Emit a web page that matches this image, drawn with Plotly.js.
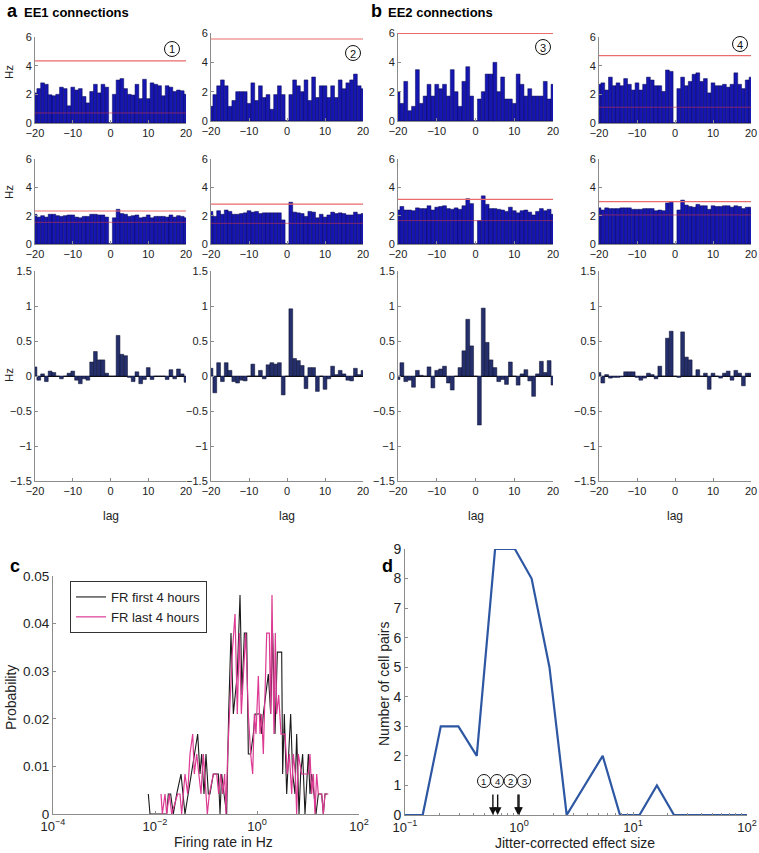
<!DOCTYPE html>
<html><head><meta charset="utf-8">
<script src="https://cdn.plot.ly/plotly-3.0.1.min.js"></script>
<style>html,body{margin:0;padding:0;background:#fff}#chart{width:759px;height:853px}</style>
</head><body><div id="chart"></div>
<script>
// ---------------- DATA ----------------
const lags = [-20,-19,-18,-17,-16,-15,-14,-13,-12,-11,-10,-9,-8,-7,-6,-5,-4,-3,-2,-1,0,1,2,3,4,5,6,7,8,9,10,11,12,13,14,15,16,17,18,19,20];
const xTickVals = [-20,-10,0,10,20];

// row 1: raw cross-correlograms (Hz)
const raw1 = [2.1,2.4,2.8,2.7,1.97,1.9,2.0,2.5,2.4,1.2,2.5,2.3,2.4,1.85,1.4,2.2,2.7,2.1,2.7,2.5,0.03,2.0,3.0,3.1,2.4,2.0,1.95,2.7,1.7,3.05,1.7,2.8,2.7,2.6,1.9,2.6,2.5,2.2,2.3,2.25,2.0];
const raw2 = [1.0,1.8,2.4,2.8,2.4,1.0,1.4,2.0,2.0,2.0,1.2,2.6,1.4,2.4,1.6,1.8,0.8,1.8,2.4,1.8,0.03,1.8,2.8,2.4,2.0,2.8,1.4,3.0,1.6,2.4,2.4,1.6,2.4,1.6,2.8,2.2,2.6,2.8,3.2,2.4,2.2];
const raw3 = [2.0,1.2,2.7,0.7,1.0,3.5,1.2,1.7,2.5,1.7,2.5,2.2,2.5,1.7,3.5,2.0,1.0,2.7,3.7,1.7,0.03,1.5,2.0,3.2,3.2,4.0,2.0,3.0,1.5,1.5,1.2,3.2,2.5,1.7,2.2,1.7,1.7,1.7,2.7,1.5,2.5];
const raw4 = [2.7,2.8,2.3,3.2,2.6,2.8,2.6,3.1,2.7,2.3,2.8,2.3,2.7,3.2,3.0,2.6,2.6,2.2,3.7,3.6,0.03,2.4,3.2,2.6,2.9,3.4,3.5,2.9,3.1,2.1,2.8,2.6,2.6,2.7,2.5,2.7,3.5,2.7,2.4,3.0,3.2];
// row 2: jittered cross-correlograms (Hz)
const jit1 = [2.1,1.9,2.0,1.9,2.1,2.1,2.0,1.95,2.0,2.05,2.05,1.9,1.85,1.95,1.95,2.1,2.1,2.05,2.05,1.9,0.03,1.85,2.45,2.15,2.1,1.95,2.0,2.05,1.85,1.9,2.05,1.85,1.95,1.95,1.95,1.9,2.05,1.9,2.0,1.95,1.85];
const jit2 = [2.3,1.95,2.35,2.1,2.4,2.3,2.1,2.1,2.15,2.2,2.35,2.25,2.3,2.15,2.2,2.2,2.2,2.2,2.2,1.7,0.03,2.95,2.25,2.2,2.15,1.95,2.3,2.25,1.85,2.1,1.9,2.05,2.25,2.15,2.2,2.15,2.05,2.05,2.25,2.1,2.15];
const jit3 = [2.4,2.65,2.4,2.4,2.35,2.55,2.5,2.5,2.7,2.4,2.6,2.65,2.7,2.5,2.45,2.55,2.45,2.7,3.2,2.85,0.03,1.65,3.4,2.8,2.5,2.5,2.45,2.4,2.3,2.6,2.35,2.2,2.35,2.4,2.25,2.05,2.3,2.5,2.35,2.45,2.1];
const jit4 = [2.55,2.4,2.55,2.5,2.5,2.5,2.55,2.55,2.55,2.45,2.45,2.45,2.5,2.5,2.5,2.35,2.4,2.35,2.9,3.0,0.03,2.4,3.1,2.75,2.65,2.6,2.8,2.7,2.7,2.45,2.7,2.65,2.65,2.7,2.7,2.6,2.7,2.65,2.5,2.6,2.6];
// row 3: jitter-corrected difference (Hz)
const dif1 = [0.13,-0.06,0.03,-0.08,0.07,0.05,0.0,-0.04,0.0,0.04,0.07,-0.06,-0.11,-0.04,-0.06,0.2,0.35,0.23,0.23,0.04,0.0,0.0,0.58,0.31,0.29,-0.02,-0.08,0.06,-0.11,-0.05,0.12,-0.05,0.0,0.0,0.0,-0.05,0.09,-0.04,0.1,0.03,-0.09];
const dif2 = [0.11,-0.24,0.19,-0.08,0.19,0.08,-0.08,-0.1,-0.06,-0.07,0.0,0.17,0.0,0.08,-0.04,0.16,0.19,0.17,0.19,-0.27,0.0,0.96,0.25,0.22,0.15,-0.18,0.12,0.12,-0.22,0.0,-0.19,-0.04,0.14,0.02,0.08,0.03,-0.06,-0.07,0.11,0.02,0.08];
const dif3 = [-0.05,0.19,-0.08,-0.06,-0.16,0.08,0.01,0.0,0.13,-0.17,0.08,0.1,0.14,-0.1,-0.2,0.0,0.12,0.36,0.81,0.43,0.0,-0.7,0.97,0.48,0.23,0.12,-0.08,-0.05,-0.12,0.2,0.0,-0.13,0.03,0.09,-0.07,-0.29,0.03,0.21,0.05,0.22,-0.13];
const dif4 = [0.05,-0.1,0.02,-0.03,-0.02,-0.02,-0.01,0.06,0.06,0.06,-0.02,-0.06,-0.03,0.04,0.02,-0.04,0.14,0.0,0.54,0.64,0.0,-0.02,0.63,0.27,0.23,0.0,0.09,0.0,0.04,-0.19,0.04,0.0,-0.03,0.04,0.07,-0.06,0.08,0.04,-0.14,0.04,0.04];

// significance bands (Hz)
const rawUpper = [4.33, 5.59, 5.97, 4.7];
const rawLower = [0.7, null, null, 1.1];
const jitUpper = [2.33, 2.82, 3.15, 2.99];
const jitLower = [1.53, 1.46, 1.65, 2.05];
const panelNums = ['1','2','3','4'];

// panel c: firing-rate distributions (log10 Hz, probability)
const firstLogHz = [-2.131,-2.098,-1.771,-1.739,-1.693,-1.641,-1.575,-1.490,-1.412,-1.346,-1.281,-1.216,-1.163,-1.118,-1.085,-1.039,-1.000,-0.954,-0.922,-0.856,-0.758,-0.725,-0.693,-0.647,-0.595,-0.556,-0.510,-0.464,-0.431,-0.386,-0.333,-0.294,-0.248,-0.203,-0.170,-0.124,-0.072,-0.039,0.059,0.092,0.124,0.170,0.222,0.268,0.307,0.353,0.399,0.484,0.503,0.536,0.582,0.621,0.660,0.699,0.745,0.778,0.824,0.856,0.895,0.941,1.007,1.039,1.072,1.118,1.157,1.203,1.268,1.301,1.333,1.379];
const firstProb  = [0.0042,0,0,0.0042,0.0042,0,0.0042,0.0084,0,0.0042,0.0084,0.0126,0.0168,0.0084,0.0126,0.0042,0.0126,0.0042,0.0042,0.0084,0.0084,0,0.0084,0.0042,0,0.021,0.038,0.021,0.025,0.0294,0.046,0.025,0.038,0.038,0.0126,0.0126,0.0168,0.021,0.021,0.0168,0.021,0.025,0.0294,0.021,0.038,0.0168,0.034,0.034,0.0084,0.021,0.0042,0.0126,0.021,0.0084,0.0042,0.0168,0,0.0084,0.0126,0,0.0126,0.0042,0.0084,0.0042,0,0.0042,0.0042,0,0.0042,0.0042];
const lastLogHz = [-1.882,-1.856,-1.804,-1.771,-1.719,-1.673,-1.556,-1.510,-1.477,-1.412,-1.359,-1.314,-1.261,-1.229,-1.183,-1.144,-1.098,-1.052,-1.007,-0.974,-0.935,-0.856,-0.791,-0.752,-0.712,-0.673,-0.634,-0.608,-0.575,-0.542,-0.484,-0.431,-0.386,-0.346,-0.307,-0.268,-0.222,-0.170,-0.124,-0.085,-0.052,-0.020,0.026,0.059,0.092,0.124,0.157,0.190,0.242,0.268,0.294,0.333,0.359,0.386,0.425,0.471,0.549,0.595,0.634,0.680,0.712,0.752,0.778,0.810,0.876,0.941,1.007,1.039,1.072,1.105,1.137,1.170,1.203,1.268,1.301,1.333,1.399];
const lastProb  = [0.0042,0,0.0042,0,0.0042,0,0.0042,0.0042,0,0.0084,0.0042,0.0126,0.0168,0.0084,0.0126,0.0084,0.0042,0.0126,0.0042,0,0.0042,0.0084,0.0084,0.0042,0.0084,0.0042,0.0084,0,0.0126,0.021,0.034,0.042,0.021,0.038,0.021,0.029,0.038,0.021,0.0126,0.0084,0.021,0.0168,0.029,0.0168,0.021,0.0126,0.025,0.038,0.038,0.021,0.046,0.0168,0.038,0.021,0.025,0.0168,0.0168,0.0084,0.0126,0.0042,0.0126,0.0084,0,0.0126,0.0084,0.0084,0.0084,0.0126,0.0042,0.0084,0,0.0084,0.0042,0.0042,0,0.0042,0.0042];
const cTickVals = [1e-4, 1e-2, 1, 100];
const cTickText = ['10<sup>\u22124</sup>','10<sup>\u22122</sup>','10<sup>0</sup>','10<sup>2</sup>'];

// panel d: effect-size distribution
const effX = [0.1,0.143,0.206,0.294,0.426,0.617,0.92,1.29,1.85,2.62,5.42,7.69,11.4,16.2,22.9,100];
const effN = [0,0,3,3,2,9,9,8,5,0,2,0,0,1,0,0];
const arrowEff = [0.59, 0.65, 0.98, 1.0];
const arrowLabels = ['1','4','2','3'];
const dTickVals = [0.1, 1, 10, 100];
const dTickText = ['10<sup>\u22121</sup>','10<sup>0</sup>','10<sup>1</sup>','10<sup>2</sup>'];

// ---------------- LAYOUT HELPERS ----------------
const W = 759, H = 853;
const FONT = 'Liberation Sans, Arial, Helvetica, sans-serif';
const xd = (a,b) => [a/W, b/W];
const yd = (t,b) => [1-b/H, 1-t/H];
const px = v => v/W, py = v => 1 - v/H;

const colX = [[35,186],[211,363],[398,553],[599,751]];
const row1Y = [[37,123],[33,121],[33,121],[37,123]];
const row2Y = [159,244];
const row3Y = [271,481];

const axisBase = () => ({showline:true, linecolor:'#8c8c8c', linewidth:1, ticks:'inside', ticklen:3, tickwidth:1,
  tickcolor:'#8c8c8c', showgrid:false, zeroline:false, fixedrange:true,
  tickfont:{family:FONT, size:11, color:'#222'}});

const layout = {width:W, height:H, margin:{l:0,r:0,t:0,b:0}, paper_bgcolor:'#fff', plot_bgcolor:'rgba(0,0,0,0)',
  bargap:0, showlegend:true, font:{family:FONT, color:'#111'}, annotations:[], shapes:[],
  legend:{x:px(70), y:py(581), xanchor:'left', yanchor:'top', bgcolor:'#fff', bordercolor:'#333', borderwidth:1,
    font:{family:FONT, size:13, color:'#222'}, itemwidth:30, tracegroupgap:0}};
const traces = [];

const rows = [
  {vals:[raw1,raw2,raw3,raw4], upper:rawUpper, lower:rawLower, color:'#1616b2', edge:'#08084e', yr:[0,6], dt:2},
  {vals:[jit1,jit2,jit3,jit4], upper:jitUpper, lower:jitLower, color:'#1616b2', edge:'#08084e', yr:[0,6], dt:2},
  {vals:[dif1,dif2,dif3,dif4], upper:null, lower:null, color:'#252f6c', edge:'#0b0f2a', yr:[-1.5,1.5], dt:0.5}
];

rows.forEach((row, r) => {
  for (let c = 0; c < 4; c++) {
    const n = r*4 + c + 1;
    const xk = 'xaxis' + n, yk = 'yaxis' + n;
    const yBox = r === 0 ? row1Y[c] : (r === 1 ? row2Y : row3Y);
    layout[xk] = Object.assign(axisBase(), {domain:xd(colX[c][0], colX[c][1]), anchor:'y'+n, range:[-20,20],
      tickmode:'array', tickvals:xTickVals});
    layout[yk] = Object.assign(axisBase(), {domain:yd(yBox[0], yBox[1]), anchor:'x'+n, range:row.yr,
      tickmode:'linear', tick0:row.yr[0], dtick:row.dt});
    if (r === 2) Object.assign(layout[yk], {zeroline:true, zerolinecolor:'#111', zerolinewidth:1});
    traces.push({type:'bar', x:lags, y:row.vals[c], xaxis:'x'+n, yaxis:'y'+n, showlegend:false, hoverinfo:'skip',
      marker:{color:row.color, line:{color:row.edge, width:0.5}}});
    if (row.upper && row.upper[c] != null)
      traces.push({type:'scatter', mode:'lines', x:[-20,20], y:[row.upper[c], row.upper[c]], xaxis:'x'+n, yaxis:'y'+n,
        showlegend:false, hoverinfo:'skip', line:{color:'#e96b6b', width:1.2}});
    if (row.lower && row.lower[c] != null)
      traces.push({type:'scatter', mode:'lines', x:[-20,20], y:[row.lower[c], row.lower[c]], xaxis:'x'+n, yaxis:'y'+n,
        showlegend:false, hoverinfo:'skip', line:{color:'rgba(200,50,80,0.6)', width:1}});
  }
});

// panel c
layout.xaxis13 = Object.assign(axisBase(), {domain:xd(53,359), anchor:'y13', type:'log', range:[-4,2],
  tickmode:'array', tickvals:cTickVals, ticktext:cTickText, tickfont:{family:FONT, size:13, color:'#222'}});
layout.yaxis13 = Object.assign(axisBase(), {domain:yd(576,814), anchor:'x13', range:[0,0.05], tickmode:'linear',
  tick0:0, dtick:0.01, tickfont:{family:FONT, size:13.5, color:'#222'}});
traces.push({type:'scatter', mode:'lines', name:'FR first 4 hours', x:firstLogHz.map(v => Math.pow(10, v)), y:firstProb,
  xaxis:'x13', yaxis:'y13', line:{color:'#1a1a1a', width:1.1}, hoverinfo:'skip'});
traces.push({type:'scatter', mode:'lines', name:'FR last 4 hours', x:lastLogHz.map(v => Math.pow(10, v)), y:lastProb,
  xaxis:'x13', yaxis:'y13', line:{color:'#dc3a93', width:1.2}, hoverinfo:'skip'});

// panel d
const minorD = [];
for (let e = -1; e < 2; e++) for (let m = 2; m < 10; m++) minorD.push(m * Math.pow(10, e));
layout.xaxis14 = Object.assign(axisBase(), {domain:xd(405,747), anchor:'y14', type:'log', range:[-1,2],
  tickmode:'array', tickvals:dTickVals, ticktext:dTickText, tickfont:{family:FONT, size:13, color:'#222'},
  minor:{tickmode:'array', tickvals:minorD, ticks:'inside', ticklen:2, tickcolor:'#8c8c8c', showgrid:false}});
layout.yaxis14 = Object.assign(axisBase(), {domain:yd(549,815), anchor:'x14', range:[0,9], tickmode:'linear',
  tick0:0, dtick:1, tickfont:{family:FONT, size:14, color:'#222'}});
traces.push({type:'scatter', mode:'lines', x:effX, y:effN, xaxis:'x14', yaxis:'y14', showlegend:false,
  line:{color:'#2d57a3', width:2.2}, hoverinfo:'skip'});

// ---------------- TEXT & SHAPES ----------------
const A = layout.annotations, S = layout.shapes;
function txt(x, y, t, opts) {
  A.push(Object.assign({xref:'paper', yref:'paper', x:px(x), y:py(y), text:t, showarrow:false,
    xanchor:'center', yanchor:'middle', font:{family:FONT, size:12, color:'#111'}}, opts || {}));
}
function circ(cx, cy, r, label, size) {
  S.push({type:'circle', xref:'paper', yref:'paper', x0:px(cx-r), x1:px(cx+r), y0:py(cy+r), y1:py(cy-r),
    line:{color:'#111', width:1}, fillcolor:'#fff', layer:'above'});
  txt(cx, cy + 0.5, label, {font:{family:FONT, size:size, color:'#111'}});
}
txt(5, 11, '<b>a</b>', {xanchor:'left', font:{family:FONT, size:18, color:'#000'}});
txt(22, 12, '<b>EE1 connections</b>', {xanchor:'left', font:{family:FONT, size:13, color:'#000'}});
txt(369, 11, '<b>b</b>', {xanchor:'left', font:{family:FONT, size:18, color:'#000'}});
txt(386, 12, '<b>EE2 connections</b>', {xanchor:'left', font:{family:FONT, size:13, color:'#000'}});
txt(8, 566, '<b>c</b>', {xanchor:'left', font:{family:FONT, size:18, color:'#000'}});
txt(380, 566, '<b>d</b>', {xanchor:'left', font:{family:FONT, size:18, color:'#000'}});

txt(9, 72, 'Hz', {textangle:-90, font:{family:FONT, size:11.5, color:'#222'}});
txt(9, 192, 'Hz', {textangle:-90, font:{family:FONT, size:11.5, color:'#222'}});
txt(9, 375, 'Hz', {textangle:-90, font:{family:FONT, size:11.5, color:'#222'}});
colX.forEach(c => txt((c[0]+c[1])/2, 516, 'lag', {font:{family:FONT, size:12, color:'#222'}}));
txt(11, 698, 'Probability', {textangle:-90, font:{family:FONT, size:14, color:'#222'}});
txt(223, 842, 'Firing rate in Hz', {font:{family:FONT, size:14, color:'#222'}});
txt(384, 684, 'Number of cell pairs', {textangle:-90, font:{family:FONT, size:14, color:'#222'}});
txt(575, 843, 'Jitter-corrected effect size', {font:{family:FONT, size:14, color:'#222'}});

const numCenters = [[172,49],[353,53],[543,47],[740,44]];
numCenters.forEach((p, i) => circ(p[0], p[1], 7.5, panelNums[i], 11));

const dCircles = [484, 497, 510.5, 524];
dCircles.forEach((x, i) => circ(x, 781, 6.5, arrowLabels[i], 9.5));
arrowEff.forEach(v => A.push({xref:'x14', yref:'y14', x:Math.log10(v), y:0, ax:0, ay:-22, text:'', showarrow:true,
  arrowhead:2, arrowsize:1.1, arrowwidth:1.4, arrowcolor:'#111', standoff:0}));

Plotly.newPlot('chart', traces, layout, {staticPlot:true, displayModeBar:false});
</script></body></html>
